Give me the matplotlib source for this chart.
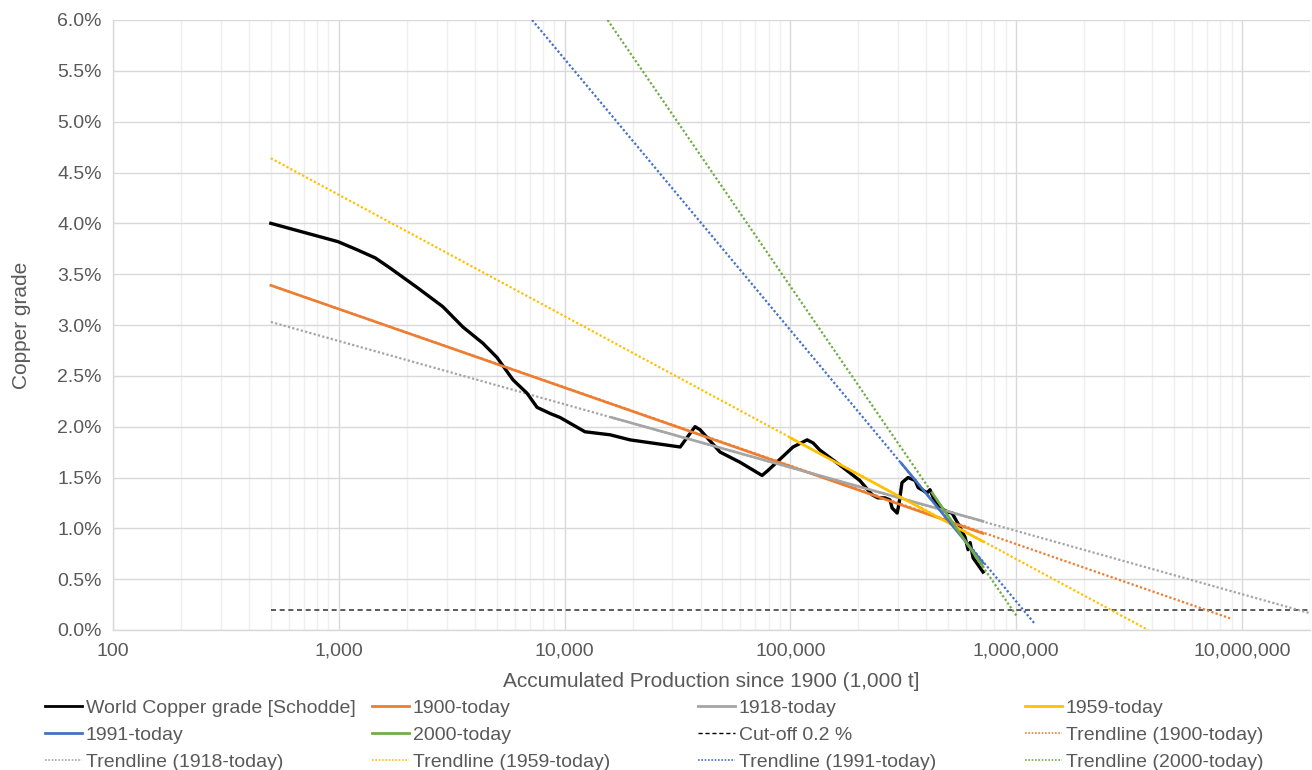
import matplotlib
matplotlib.use("Agg")
import matplotlib.pyplot as plt
from matplotlib.ticker import FixedLocator, FuncFormatter, NullFormatter
from matplotlib.lines import Line2D

plt.rcParams['font.family'] = ['Liberation Sans', 'DejaVu Sans']

# ---- data (x: accumulated production, 1,000 t; y: copper grade %) ----
world_x = [500, 991, 1205, 1450, 1688, 2220, 2890, 3545, 4350, 5020, 5910, 6810, 7550,
           8620, 9550, 12300, 15900, 19500, 32500, 37800, 39800, 48800, 59800,
           74900, 79600, 102700, 118600, 126000, 135000, 166000, 203000, 230000,
           244000, 262000, 276000, 282000, 297000, 303000, 312000, 332000,
           357000, 368000, 403000, 415000, 437000, 460000, 499000, 520000,
           564000, 594000, 612000, 625000, 644000, 713000]
world_y = [4.00, 3.82, 3.74, 3.66, 3.56, 3.37, 3.18, 2.98, 2.82, 2.68, 2.46, 2.33, 2.19,
           2.13, 2.09, 1.95, 1.92, 1.87, 1.80, 2.00, 1.97, 1.75, 1.65,
           1.52, 1.57, 1.80, 1.87, 1.84, 1.77, 1.62, 1.47, 1.33,
           1.30, 1.30, 1.28, 1.20, 1.15, 1.25, 1.45, 1.50,
           1.47, 1.40, 1.35, 1.38, 1.26, 1.20, 1.16, 1.15,
           1.01, 0.91, 0.79, 0.86, 0.71, 0.57]

# fitted segments (solid)
fit1900_x = [500, 713000];    fit1900_y = [3.39, 0.95]
fit1918_x = [16200, 713000];  fit1918_y = [2.09, 1.07]
fit1959_x = [100000, 713000]; fit1959_y = [1.89, 0.87]
fit1991_x = [310000, 713000]; fit1991_y = [1.64, 0.66]
fit2000_x = [424000, 713000]; fit2000_y = [1.35, 0.62]

# trendlines (dotted)
trend1900_x = [500, 8850000];  trend1900_y = [3.39, 0.115]
trend1918_x = [500, 20000000]; trend1918_y = [3.03, 0.165]
trend1959_x = [500, 3840000];  trend1959_y = [4.64, 0.0]
trend1991_x = [7180, 1210000]; trend1991_y = [6.0, 0.06]
trend2000_x = [15500, 1010000]; trend2000_y = [6.0, 0.13]

cutoff_x = [500, 20000000]; cutoff_y = [0.2, 0.2]

x_ticks = [100, 1000, 10000, 100000, 1000000, 10000000]
y_ticks = [0.0, 0.5, 1.0, 1.5, 2.0, 2.5, 3.0, 3.5, 4.0, 4.5, 5.0, 5.5, 6.0]

ORANGE = '#ED7D31'; GRAY = '#A5A5A5'; YELLOW = '#FFC000'; BLUE = '#4472C4'; GREEN = '#70AD47'
TXT = '#595959'

fig = plt.figure(figsize=(13.12, 7.70), dpi=100)
ax = fig.add_axes([113/1312, 1-630/770, (1310-113)/1312, 610/770])
ax.set_xscale('log')
ax.set_xlim(100, 20000000)
ax.set_ylim(0, 6)

# grid
ax.xaxis.set_major_locator(FixedLocator(x_ticks))
minors = [m * d for d in [100, 1000, 10000, 100000, 1000000, 10000000] for m in range(2, 10) if m * d <= 20000000]
ax.xaxis.set_minor_locator(FixedLocator(minors))
ax.xaxis.set_minor_formatter(NullFormatter())
ax.yaxis.set_major_locator(FixedLocator(y_ticks))
ax.grid(True, which='major', axis='both', color='#D9D9D9', lw=1.0)
ax.grid(True, which='minor', axis='x', color='#EFEFEF', lw=1.0)
ax.set_axisbelow(True)

ax.xaxis.set_major_formatter(FuncFormatter(lambda v, p: f"{int(round(v)):,}"))
ax.yaxis.set_major_formatter(FuncFormatter(lambda v, p: f"{v:.1f}%"))
ax.tick_params(axis='both', which='both', length=0, labelsize=14, colors=TXT)
ax.tick_params(axis='x', pad=9)
ax.tick_params(axis='y', pad=8)
for s in ['top', 'right']:
    ax.spines[s].set_visible(False)
for s in ['left', 'bottom']:
    ax.spines[s].set_color('#D9D9D9')
    ax.spines[s].set_linewidth(1.0)

DOT = (0, (1, 1))
DASH = (0, (3, 2.2))
lw_dot = 1.6
lw_fit = 1.9

# cut-off
ax.plot(cutoff_x, cutoff_y, color='#404040', lw=1.2, ls=DASH)
# trendlines
ax.plot(trend1900_x, trend1900_y, color=ORANGE, lw=lw_dot, ls=DOT)
ax.plot(trend1918_x, trend1918_y, color=GRAY, lw=lw_dot, ls=DOT)
ax.plot(trend1959_x, trend1959_y, color=YELLOW, lw=lw_dot, ls=DOT)
ax.plot(trend1991_x, trend1991_y, color=BLUE, lw=lw_dot, ls=DOT)
ax.plot(trend2000_x, trend2000_y, color=GREEN, lw=lw_dot, ls=DOT)
# world curve
ax.plot(world_x, world_y, color='black', lw=2.4, solid_joinstyle='round', zorder=3)
# fits
ax.plot(fit1900_x, fit1900_y, color=ORANGE, lw=lw_fit, zorder=4)
ax.plot(fit1918_x, fit1918_y, color=GRAY, lw=lw_fit, zorder=4)
ax.plot(fit1959_x, fit1959_y, color=YELLOW, lw=lw_fit, zorder=4)
ax.plot(fit1991_x, fit1991_y, color=BLUE, lw=lw_fit, zorder=4)
ax.plot(fit2000_x, fit2000_y, color=GREEN, lw=lw_fit, zorder=4)

ax.set_xlabel('Accumulated Production since 1900 (1,000 t]', fontsize=15, color=TXT, labelpad=9)
ax.set_ylabel('Copper grade', fontsize=15, color=TXT, labelpad=19)

# legend: 4 columns, row-major
def H(color, ls='-', lw=2.0):
    return Line2D([], [], color=color, lw=lw, ls=ls)

cols = [
    [(H('black'), 'World Copper grade [Schodde]'), (H(BLUE), '1991-today'),
     (H(GRAY, (0, (1, 1)), 1.2), 'Trendline (1918-today)')],
    [(H(ORANGE), '1900-today'), (H(GREEN), '2000-today'),
     (H(YELLOW, (0, (1, 1)), 1.2), 'Trendline (1959-today)')],
    [(H(GRAY), '1918-today'), (H('black', (0, (3, 2)), 1.0), 'Cut-off 0.2 %'),
     (H(BLUE, (0, (1, 1)), 1.2), 'Trendline (1991-today)')],
    [(H(YELLOW), '1959-today'), (H(ORANGE, (0, (1, 1)), 1.2), 'Trendline (1900-today)'),
     (H(GREEN, (0, (1, 1)), 1.2), 'Trendline (2000-today)')],
]
col_x = [45, 372, 698, 1025]
for cx, items in zip(col_x, cols):
    fig.legend([h for h, _ in items], [lab for _, lab in items], loc='upper left',
               bbox_to_anchor=(cx/1312, 1-699/770), frameon=False, fontsize=14,
               handlelength=1.9, handletextpad=0.2, borderpad=0, borderaxespad=0,
               labelspacing=0.5, labelcolor=TXT)

fig.savefig('out.png', dpi=100)
